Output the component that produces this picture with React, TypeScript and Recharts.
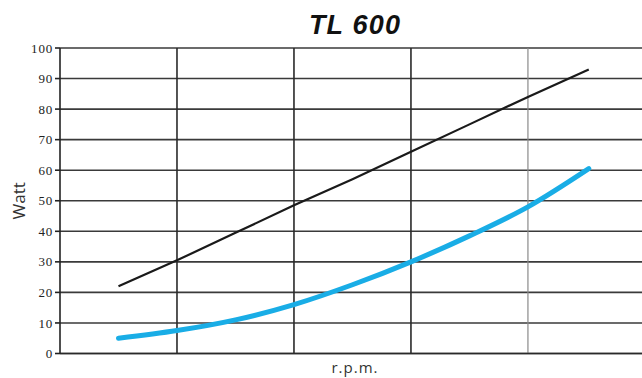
import React from "react";
import {
  LineChart,
  Line,
  XAxis,
  YAxis,
  CartesianGrid,
  ReferenceLine,
  Label,
} from "recharts";

const rpm = [0.5, 1, 1.5, 2, 2.5, 3, 3.5, 4, 4.52];
const blackWatt = [22, 30.5, 39.5, 48.5, 57, 66, 75, 84, 93];
const blueWatt = [5, 7.5, 11, 16, 22.5, 30, 38.5, 48, 60.5];
const yTicks = [0, 10, 20, 30, 40, 50, 60, 70, 80, 90, 100];
const darkGridX = [1, 2, 3];
const lightGridX = [4];
const title = "TL 600";

const data = rpm.map((r, i) => ({ rpm: r, black: blackWatt[i], blue: blueWatt[i] }));

export default function App() {
  return (
    <div style={{ position: "absolute", left: 0, top: 0, width: 642, height: 378, background: "#fff" }}>
      <div
        style={{
          position: "absolute",
          left: 0,
          top: 10,
          width: 710,
          textAlign: "center",
          fontFamily: "'Liberation Sans', Arial, sans-serif",
          fontWeight: 900,
          fontStyle: "italic",
          fontSize: 27,
          letterSpacing: 1.2,
          color: "#111",
          lineHeight: "30px",
        }}
      >
        {title}
      </div>
      <LineChart
        width={642}
        height={378}
        data={data}
        margin={{ top: 48, right: 0, left: 0, bottom: 0 }}
      >
        <CartesianGrid vertical={false} stroke="#3a3a3a" strokeWidth={1.6} strokeOpacity={1} />
        {darkGridX.map((x) => (
          <ReferenceLine key={"d" + x} x={x} stroke="#2a2a2a" strokeWidth={1.6} />
        ))}
        {lightGridX.map((x) => (
          <ReferenceLine key={"l" + x} x={x} stroke="#8a8a8a" strokeWidth={1.2} />
        ))}
        <XAxis
          dataKey="rpm"
          type="number"
          domain={[0, 4.975]}
          ticks={[0, 1, 2, 3, 4]}
          tick={false}
          tickLine={false}
          axisLine={{ stroke: "#2a2a2a", strokeWidth: 1.6 }}
          height={24.5}
        >
          <Label
            value="r.p.m."
            position="insideBottom"
            offset={5}
            dx={4}
            style={{
              fontFamily: "'Open Sans', sans-serif",
              fontSize: 15,
              letterSpacing: 1,
              fill: "#333",
            }}
          />
        </XAxis>
        <YAxis
          type="number"
          domain={[0, 100]}
          ticks={yTicks}
          width={60}
          tickSize={5}
          tickMargin={2}
          interval={0}
          axisLine={{ stroke: "#222", strokeWidth: 1.6 }}
          tickLine={{ stroke: "#222", strokeWidth: 1.6 }}
          tick={{
            fontFamily: "'Liberation Serif', 'Times New Roman', serif",
            fontSize: 13,
            letterSpacing: 0.8,
            fill: "#222",
          }}
        >
          <Label
            value="Watt"
            angle={-90}
            position="insideLeft"
            offset={19}
            style={{
              fontFamily: "'Open Sans', sans-serif",
              fontSize: 17,
              fill: "#333",
              textAnchor: "middle",
            }}
          />
        </YAxis>
        <Line
          type="linear"
          dataKey="black"
          stroke="#1a1a1a"
          strokeWidth={2.2}
          dot={false}
          isAnimationActive={false}
        />
        <Line
          type="monotone"
          dataKey="blue"
          stroke="#19ade6"
          strokeWidth={5}
          strokeLinecap="round"
          dot={false}
          isAnimationActive={false}
        />
      </LineChart>
    </div>
  );
}
